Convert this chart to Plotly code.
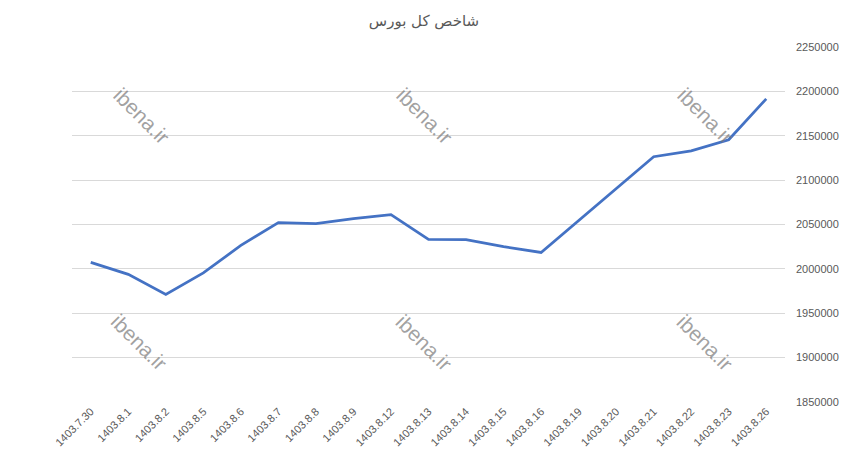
import plotly.graph_objects as go

dates = ["1403.7.30", "1403.8.1", "1403.8.2", "1403.8.5", "1403.8.6", "1403.8.7",
         "1403.8.8", "1403.8.9", "1403.8.12", "1403.8.13", "1403.8.14", "1403.8.15",
         "1403.8.16", "1403.8.19", "1403.8.20", "1403.8.21", "1403.8.22", "1403.8.23",
         "1403.8.26"]
index_values = [2007300, 1993800, 1971300, 1995500, 2026400, 2052200,
                2051100, 2056700, 2061200, 2033100, 2033000, 2025000,
                2018500, 2054500, 2090400, 2126400, 2133000, 2145500,
                2191600]
y_ticks = [1850000, 1900000, 1950000, 2000000, 2050000, 2100000, 2150000, 2200000, 2250000]
title_text = "شاخص کل بورس"
watermark = "ibena.ir"

fig = go.Figure()
fig.add_trace(go.Scatter(x=dates, y=index_values, mode="lines",
                         line=dict(color="#4472C4", width=2.75), hoverinfo="x+y"))

wm_pos = [(0.097, 0.806), (0.494, 0.806), (0.888, 0.806),
          (0.095, 0.169), (0.494, 0.169), (0.888, 0.169)]
for xp, yp in wm_pos:
    fig.add_annotation(text=watermark, xref="paper", yref="paper", x=xp, y=yp,
                       xanchor="center", yanchor="middle",
                       showarrow=False, textangle=45,
                       font=dict(family="Liberation Sans, Arial", size=21, color="rgba(120,120,120,0.7)"))

fig.update_layout(
    width=848, height=459,
    margin=dict(l=72, r=63, t=47, b=57),
    paper_bgcolor="white", plot_bgcolor="white",
    showlegend=False,
    title=dict(text=title_text, x=0.5, xanchor="center", y=0.955, yanchor="middle",
               font=dict(family="DejaVu Sans, Noto Sans", size=15, color="#595959")),
    xaxis=dict(type="category", range=[-0.5, len(dates) - 0.5], tickangle=-45,
               showgrid=False, showline=False, automargin=False,
               ticks="", tickfont=dict(family="Liberation Sans, Arial", size=11, color="#595959")),
    yaxis=dict(side="right", range=[1850000, 2250000], tickvals=y_ticks,
               ticktext=[str(v) for v in y_ticks], showgrid=True, gridcolor="#D9D9D9",
               gridwidth=1, zeroline=False, showline=False, ticks="", automargin=False,
               ticklabelstandoff=10,
               tickfont=dict(family="Liberation Sans, Arial", size=11, color="#595959")),
)
fig.write_html("out.html", config={"displayModeBar": False},
               post_script="document.body.style.margin='0';")
